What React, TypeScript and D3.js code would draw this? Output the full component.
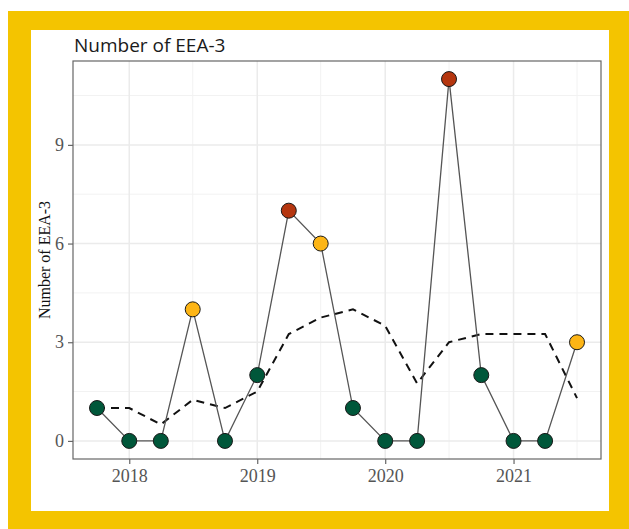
import React, {useEffect, useRef} from 'react';
import * as d3 from 'd3';

// quarterly counts
const quarters = ["2017-10-01", "2018-01-01", "2018-04-01", "2018-07-01", "2018-10-01", "2019-01-01", "2019-04-01", "2019-07-01",
                  "2019-10-01", "2020-01-01", "2020-04-01", "2020-07-01", "2020-10-01", "2021-01-01", "2021-04-01", "2021-07-01"];
const counts = [1, 0, 0, 4, 0, 2, 7, 6, 1, 0, 0, 11, 2, 0, 0, 3];
const levels = ["low", "low", "low", "mid", "low", "low", "high", "mid", "low", "low", "low", "high", "low", "low", "low", "mid"];
const rolling = [1.0, 1.0, 0.5, 1.25, 1.0, 1.5, 3.25, 3.75, 4.0, 3.5, 1.75, 3.0, 3.25, 3.25, 3.25, 1.3];
const yTicks = [0, 3, 6, 9];
const xTicks = ["2018-01-01", "2019-01-01", "2020-01-01", "2021-01-01"];
const xMinor = ["2018-07-01", "2019-07-01", "2020-07-01", "2021-07-01"];

const levelColors = {low: "#00573a", mid: "#fdb515", high: "#b5360f"};

function App() {

    const svgRef = useRef();

    const width = 629;
    const height = 529;
    const left = 73, right = 601, top = 61, bottom = 459;

    useEffect(() => {
        const svg = d3.select(svgRef.current);
        svg.selectAll("*").remove();

        const parse = d3.timeParse("%Y-%m-%d");
        const dates = quarters.map(parse);

        const span = dates[dates.length - 1] - dates[0];
        const xScale = d3.scaleTime()
                         .domain([new Date(+dates[0] - span * 0.05), new Date(+dates[dates.length - 1] + span * 0.05)])
                         .range([left, right]);
        const yScale = d3.scaleLinear()
                         .domain([-0.55, 11.55])
                         .range([bottom, top]);

        // frame
        svg.append("rect").attr("x", 0).attr("y", 0).attr("width", width).attr("height", height).attr("fill", "#ffffff");
        svg.append("rect").attr("x", 8).attr("y", 11).attr("width", width - 8).attr("height", height - 11).attr("fill", "#f4c400");
        svg.append("rect").attr("x", 31).attr("y", 30).attr("width", 578).attr("height", 481).attr("fill", "#ffffff");

        // grid
        const grid = svg.append("g");
        [1.5, 4.5, 7.5, 10.5].forEach(v => {
            grid.append("line").attr("x1", left).attr("x2", right).attr("y1", yScale(v)).attr("y2", yScale(v))
                .attr("stroke", "#f2f2f2").attr("stroke-width", 1);
        });
        xMinor.map(parse).forEach(d => {
            grid.append("line").attr("x1", xScale(d)).attr("x2", xScale(d)).attr("y1", top).attr("y2", bottom)
                .attr("stroke", "#f2f2f2").attr("stroke-width", 1);
        });
        yTicks.forEach(v => {
            grid.append("line").attr("x1", left).attr("x2", right).attr("y1", yScale(v)).attr("y2", yScale(v))
                .attr("stroke", "#ebebeb").attr("stroke-width", 1.5);
        });
        xTicks.map(parse).forEach(d => {
            grid.append("line").attr("x1", xScale(d)).attr("x2", xScale(d)).attr("y1", top).attr("y2", bottom)
                .attr("stroke", "#ebebeb").attr("stroke-width", 1.5);
        });

        // rolling mean (dashed)
        const line = d3.line()
                       .x((d, i) => xScale(dates[i]))
                       .y(d => yScale(d));
        svg.append("path")
           .datum(rolling)
           .attr("d", line)
           .attr("fill", "none")
           .attr("stroke", "#111")
           .attr("stroke-width", 2)
           .attr("stroke-dasharray", "8,6");

        // counts line
        svg.append("path")
           .datum(counts)
           .attr("d", line)
           .attr("fill", "none")
           .attr("stroke", "#555")
           .attr("stroke-width", 1.3);

        // points
        svg.selectAll(".pt")
           .data(counts)
           .enter()
           .append("circle")
           .attr("class", "pt")
           .attr("cx", (d, i) => xScale(dates[i]))
           .attr("cy", d => yScale(d))
           .attr("r", 7.5)
           .attr("fill", (d, i) => levelColors[levels[i]])
           .attr("stroke", "#1a1a1a")
           .attr("stroke-width", 1);

        // panel border
        svg.append("rect").attr("x", left).attr("y", top).attr("width", right - left).attr("height", bottom - top)
           .attr("fill", "none").attr("stroke", "#666").attr("stroke-width", 1.2);

        // axes
        const xAxis = d3.axisBottom(xScale)
                        .tickValues(xTicks.map(parse))
                        .tickFormat(d3.timeFormat("%Y"))
                        .tickSize(5)
                        .tickPadding(5);
        const yAxis = d3.axisLeft(yScale)
                        .tickValues(yTicks)
                        .tickSize(5)
                        .tickPadding(4);

        const gx = svg.append("g").attr("transform", "translate(0," + bottom + ")").call(xAxis);
        const gy = svg.append("g").attr("transform", "translate(" + left + ",0)").call(yAxis);
        [gx, gy].forEach(g => {
            g.select(".domain").remove();
            g.selectAll(".tick line").attr("stroke", "#666").attr("stroke-width", 1.2);
            g.selectAll(".tick text")
             .attr("fill", "#555")
             .style("font-family", "'Liberation Serif', serif")
             .style("font-size", "18px");
        });

        // titles
        svg.append("text")
           .attr("x", 74).attr("y", 52)
           .style("font-family", "'Open Sans', 'Noto Sans', sans-serif")
           .style("font-size", "19px")
           .attr("fill", "#1a1a1a")
           .text("Number of EEA-3");

        svg.append("text")
           .attr("transform", "translate(50," + ((top + bottom) / 2) + ") rotate(-90)")
           .attr("text-anchor", "middle")
           .style("font-family", "'Liberation Serif', serif")
           .style("font-size", "16px")
           .attr("fill", "#111")
           .text("Number of EEA-3");

    }, []);

    return (
        <svg ref={svgRef} width={width} height={height} style={{position: "absolute", left: 0, top: 0}}></svg>
    )
}

export default App;
